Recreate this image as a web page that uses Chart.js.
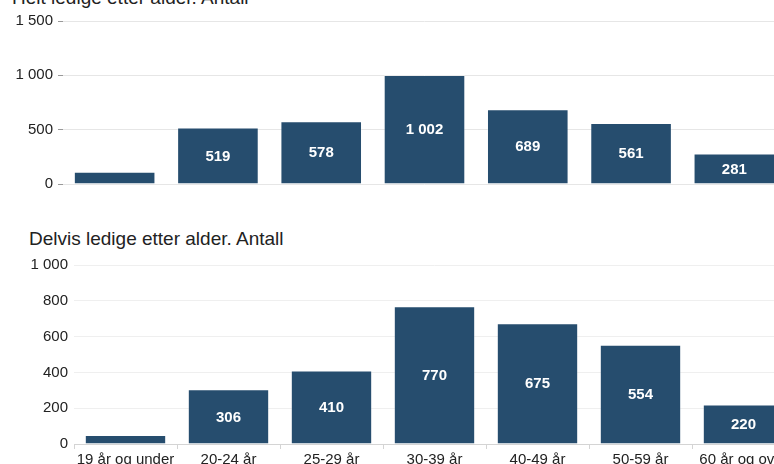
<!DOCTYPE html>
<html>
<head>
<meta charset="utf-8">
<script src="https://cdn.jsdelivr.net/npm/chart.js@4.4.0/dist/chart.umd.min.js"></script>
<style>
    html, body { margin: 0; padding: 0; background: #fff; }
    body { width: 774px; height: 464px; overflow: hidden; position: relative; font-family: "Liberation Sans", Arial, sans-serif; }
    .title { position: absolute; font-size: 19px; color: #222; white-space: nowrap; line-height: 1; }
    .box { position: absolute; }
</style>
</head>
<body>
<div class="title" id="titleTop" style="left:12px; top:-12px;">Helt ledige etter alder. Antall</div>
<div class="box" style="left:0; top:0; width:800px; height:198px;"><canvas id="chartTop"></canvas></div>

<div class="title" id="titleBottom" style="left:29px; top:229px;">Delvis ledige etter alder. Antall</div>
<div class="box" style="left:0; top:250px; width:810px; height:219px;"><canvas id="chartBottom"></canvas></div>

<script>
// Data
const ageGroups = ['19 år og under', '20-24 år', '25-29 år', '30-39 år', '40-49 år', '50-59 år', '60 år og over'];
const heltLedige = [112, 519, 578, 1002, 689, 561, 281];
const delvisLedige = [50, 306, 410, 770, 675, 554, 220];
const heltTicks = [0, 500, 1000, 1500];
const delvisTicks = [0, 200, 400, 600, 800, 1000];

const barColor = '#264d6e';
const fmt = v => String(v).replace(/\B(?=(\d{3})+(?!\d))/g, ' ');

// Value labels drawn in the middle of each bar
const valueLabels = {
    id: 'valueLabels',
    afterDatasetsDraw(chart) {
        const ctx = chart.ctx;
        const meta = chart.getDatasetMeta(0);
        const data = chart.data.datasets[0].data;
        ctx.save();
        ctx.font = 'bold 15px "Liberation Sans", Arial, sans-serif';
        ctx.fillStyle = '#fff';
        ctx.textAlign = 'center';
        ctx.textBaseline = 'middle';
        meta.data.forEach((bar, i) => {
            if (bar.base - bar.y < 20) return;
            ctx.fillText(fmt(data[i]), bar.x, (bar.y + bar.base) / 2 + 1);
        });
        ctx.restore();
    }
};

function makeChart(id, values, ticks, opts) {
    return new Chart(document.getElementById(id), {
        type: 'bar',
        data: {
            labels: ageGroups,
            datasets: [{
                data: values,
                backgroundColor: barColor,
                borderColor: 'rgba(255,255,255,0.25)',
                borderWidth: 1,
                categoryPercentage: 1,
                barPercentage: 0.79
            }]
        },
        options: {
            responsive: true,
            maintainAspectRatio: false,
            animation: false,
            devicePixelRatio: 1,
            layout: { padding: opts.padding },
            plugins: { legend: { display: false }, tooltip: { enabled: false } },
            scales: {
                x: opts.x,
                y: {
                    min: 0,
                    max: ticks[ticks.length - 1],
                    afterBuildTicks: axis => { axis.ticks = ticks.map(v => ({ value: v })); },
                    afterFit: axis => { axis.width = opts.yWidth; },
                    border: { display: false },
                    grid: {
                        color: opts.gridColor,
                        drawTicks: opts.yTickMarks,
                        tickLength: 5,
                        tickColor: '#999'
                    },
                    ticks: {
                        padding: opts.yPad,
                        color: '#222',
                        font: { family: '"Liberation Sans", Arial, sans-serif', size: 15 },
                        callback: v => fmt(v)
                    }
                }
            }
        },
        plugins: [valueLabels]
    });
}

makeChart('chartTop', heltLedige, heltTicks, {
    padding: { top: 21, right: 14, bottom: 0, left: 0 },
    yWidth: 63,
    yPad: 5,
    yTickMarks: true,
    gridColor: '#e6e6e6',
    x: {
        display: false
    }
});

makeChart('chartBottom', delvisLedige, delvisTicks, {
    padding: { top: 14, right: 15, bottom: 0, left: 0 },
    yWidth: 74,
    yPad: 6,
    yTickMarks: false,
    gridColor: '#efefef',
    x: {
        afterFit: axis => { axis.height = 25; },
        border: { display: true, color: '#d4d4d4' },
        grid: {
            offset: true,
            drawOnChartArea: false,
            drawTicks: true,
            tickLength: 5,
            tickColor: '#d4d4d4'
        },
        ticks: {
            padding: 2,
            maxRotation: 0,
            autoSkip: false,
            color: '#222',
            font: { family: '"Liberation Sans", Arial, sans-serif', size: 15 }
        }
    }
});
</script>
</body>
</html>
